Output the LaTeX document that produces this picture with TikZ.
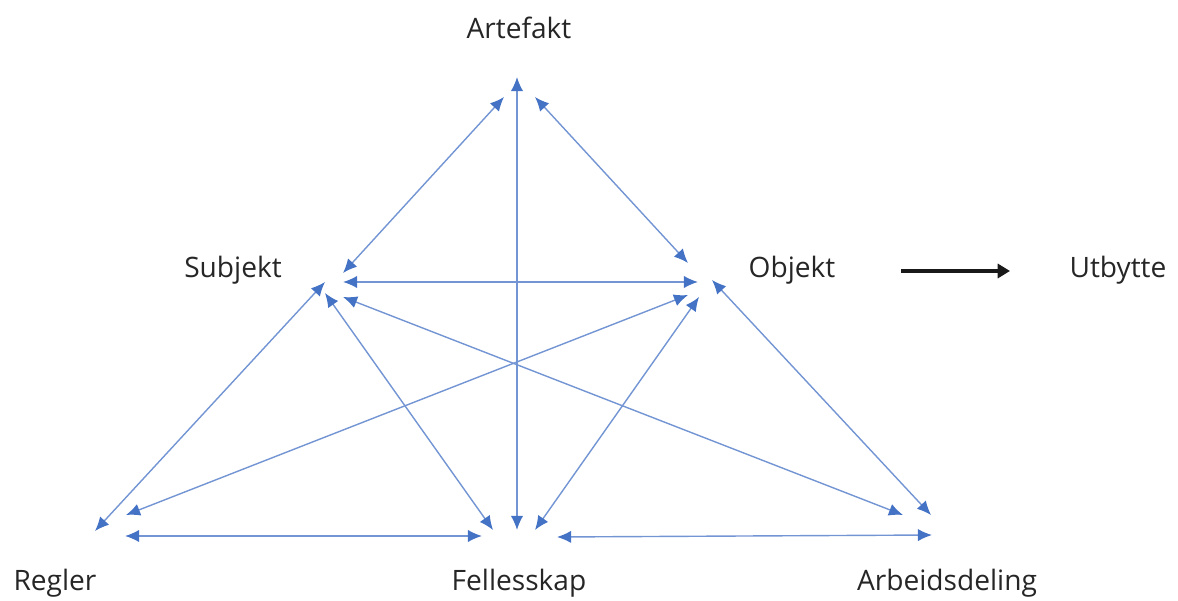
\documentclass[tikz,border=0pt]{standalone}
\usepackage{fontspec}
\setmainfont{Open Sans}
\usetikzlibrary{arrows.meta}
\definecolor{linkblue}{RGB}{68,114,196}
\tikzset{
  label/.style={font=\fontsize{16}{19}\selectfont, text=black!85},
  link/.style={draw=linkblue!75, line width=0.8pt,
    {Latex[length=8pt,width=7pt,color=linkblue]}-{Latex[length=8pt,width=7pt,color=linkblue]}},
  result/.style={draw=black!90, line width=2.2pt, -{Triangle[length=7pt,width=8pt]}}
}
\begin{document}
\begin{tikzpicture}[x=0.02cm,y=-0.02cm]
  \useasboundingbox (0,0) rectangle (1178,601);
  % labels
  \node[label] (artefakt) at (519,28) {Artefakt};
  \node[label] (subjekt) at (233,270) {Subjekt};
  \node[label] (objekt) at (792,270) {Objekt};
  \node[label] (utbytte) at (1118,270) {Utbytte};
  \node[label] (regler) at (55,583) {Regler};
  \node[label] (fellesskap) at (519,583) {Fellesskap};
  \node[label] (arbeid) at (947,583) {Arbeidsdeling};
  % arrow ends near artefakt
  \coordinate (a0) at (517,77);
  \coordinate (a1) at (504,97);
  \coordinate (a2) at (535,97);
  % arrow ends near subjekt
  \coordinate (s1) at (343,273);
  \coordinate (s2) at (343,282);
  \coordinate (s3) at (325,282);
  \coordinate (s4) at (325,293);
  \coordinate (s5) at (343,297);
  % arrow ends near objekt
  \coordinate (o1) at (688,263);
  \coordinate (o2) at (698,282);
  \coordinate (o3) at (712,280);
  \coordinate (o4) at (688,295);
  \coordinate (o5) at (699,297);
  \coordinate (o6) at (901,271);
  \coordinate (u1) at (1010,271);
  % arrow ends near regler
  \coordinate (r1) at (95,531);
  \coordinate (r2) at (126,515);
  \coordinate (r3) at (125,536);
  % arrow ends near fellesskap
  \coordinate (f1) at (493,530);
  \coordinate (f2) at (517,530);
  \coordinate (f3) at (535,530);
  \coordinate (f4) at (482,536);
  \coordinate (f5) at (557,537);
  % arrow ends near arbeidsdeling
  \coordinate (d1) at (903,515);
  \coordinate (d2) at (931,515);
  \coordinate (d3) at (932,535);
  % links
  \draw[link] (a0) -- (f2);
  \draw[link] (a1) -- (s1);
  \draw[link] (a2) -- (o1);
  \draw[link] (s2) -- (o2);
  \draw[link] (s3) -- (r1);
  \draw[link] (s4) -- (f1);
  \draw[link] (s5) -- (d1);
  \draw[link] (o4) -- (r2);
  \draw[link] (o5) -- (f3);
  \draw[link] (o3) -- (d2);
  \draw[link] (r3) -- (f4);
  \draw[link] (f5) -- (d3);
  % outcome
  \draw[result] (o6) -- (u1);
\end{tikzpicture}
\end{document}
